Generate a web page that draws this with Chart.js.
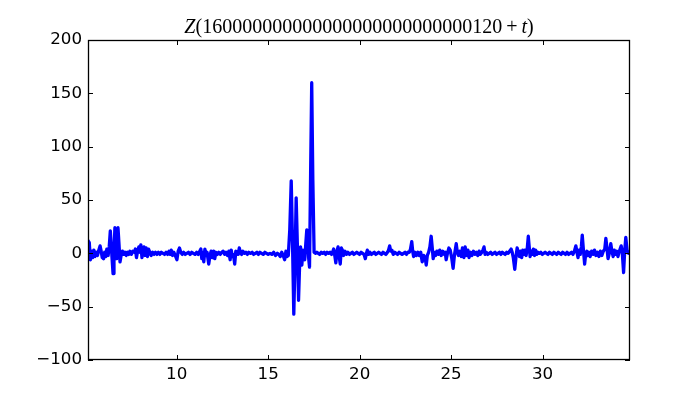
<!DOCTYPE html>
<html>
<head>
<meta charset="utf-8">
<script src="https://cdn.jsdelivr.net/npm/chart.js@4.4.1/dist/chart.umd.min.js"></script>
<style>
  html, body { margin: 0; padding: 0; background: #ffffff; }
  #wrap { width: 700px; height: 400px; }
</style>
</head>
<body>
<div id="wrap"><canvas id="zChart" width="700" height="400"></canvas></div>
<script>
// values, t on the x axis, Z on the y axis
var ts = [
  5.15, 5.22, 5.28, 5.34, 5.40, 5.47, 5.53, 5.60, 5.67, 5.74,
  5.81, 5.87, 5.93, 6.00, 6.06, 6.12, 6.18, 6.25, 6.31, 6.37,
  6.42, 6.47, 6.52, 6.57, 6.62, 6.67, 6.72, 6.79, 6.84, 6.90,
  6.96, 7.03, 7.10, 7.17, 7.24, 7.31, 7.38, 7.44, 7.52, 7.60,
  7.68, 7.74, 7.80, 7.86, 7.93, 7.99, 8.04, 8.10, 8.15, 8.21,
  8.27, 8.33, 8.40, 8.46, 8.53, 8.60, 8.68, 8.76, 8.84, 8.92,
  9.00, 9.08, 9.16, 9.25, 9.34, 9.42, 9.50, 9.58, 9.64, 9.70,
  9.77, 9.84, 9.92, 10.01, 10.08, 10.15, 10.22, 10.30, 10.38, 10.46,
  10.55, 10.64, 10.73, 10.82, 10.91, 11.00, 11.09, 11.18, 11.26, 11.32,
  11.37, 11.42, 11.48, 11.54, 11.60, 11.66, 11.75, 11.82, 11.88, 11.95,
  12.02, 12.08, 12.14, 12.22, 12.30, 12.38, 12.46, 12.54, 12.62, 12.70,
  12.78, 12.85, 12.92, 12.98, 13.04, 13.10, 13.17, 13.23, 13.30, 13.36,
  13.42, 13.48, 13.55, 13.62, 13.70, 13.78, 13.86, 13.94, 14.03, 14.12,
  14.20, 14.29, 14.38, 14.46, 14.55, 14.64, 14.73, 14.82, 14.91, 15.00,
  15.10, 15.20, 15.30, 15.40, 15.50, 15.58, 15.66, 15.74, 15.82, 15.90,
  15.97, 16.03, 16.10, 16.18, 16.26, 16.33, 16.40, 16.47, 16.53, 16.60,
  16.66, 16.72, 16.77, 16.84, 16.90, 16.96, 17.00, 17.06, 17.11, 17.16,
  17.21, 17.26, 17.32, 17.38, 17.44, 17.51, 17.58, 17.66, 17.74, 17.82,
  17.90, 17.98, 18.06, 18.14, 18.22, 18.30, 18.38, 18.46, 18.52, 18.58,
  18.64, 18.70, 18.76, 18.82, 18.88, 18.94, 19.00, 19.06, 19.12, 19.20,
  19.28, 19.36, 19.44, 19.52, 19.60, 19.68, 19.76, 19.84, 19.92, 20.00,
  20.08, 20.16, 20.24, 20.31, 20.37, 20.42, 20.49, 20.56, 20.64, 20.72,
  20.80, 20.88, 20.96, 21.04, 21.12, 21.20, 21.28, 21.36, 21.44, 21.52,
  21.58, 21.64, 21.70, 21.76, 21.84, 21.92, 22.00, 22.08, 22.16, 22.24,
  22.32, 22.40, 22.48, 22.56, 22.64, 22.72, 22.78, 22.85, 22.90, 22.95,
  23.02, 23.10, 23.18, 23.26, 23.34, 23.42, 23.50, 23.58, 23.64, 23.70,
  23.77, 23.84, 23.91, 23.97, 24.02, 24.08, 24.15, 24.22, 24.30, 24.38,
  24.46, 24.54, 24.62, 24.68, 24.73, 24.80, 24.88, 24.95, 25.03, 25.11,
  25.18, 25.28, 25.34, 25.40, 25.48, 25.56, 25.62, 25.70, 25.77, 25.84,
  25.92, 25.98, 26.06, 26.14, 26.22, 26.30, 26.38, 26.46, 26.53, 26.60,
  26.68, 26.74, 26.80, 26.86, 26.92, 27.00, 27.08, 27.16, 27.24, 27.32,
  27.40, 27.48, 27.56, 27.64, 27.72, 27.80, 27.88, 27.96, 28.04, 28.12,
  28.20, 28.28, 28.34, 28.40, 28.48, 28.55, 28.61, 28.67, 28.74, 28.80,
  28.86, 28.92, 28.98, 29.04, 29.10, 29.16, 29.22, 29.27, 29.32, 29.38,
  29.44, 29.50, 29.56, 29.62, 29.68, 29.74, 29.82, 29.90, 29.98, 30.06,
  30.14, 30.22, 30.30, 30.38, 30.46, 30.54, 30.62, 30.70, 30.78, 30.86,
  30.94, 31.02, 31.10, 31.18, 31.26, 31.34, 31.42, 31.50, 31.58, 31.66,
  31.74, 31.82, 31.88, 31.94, 32.00, 32.06, 32.12, 32.17, 32.23, 32.30,
  32.36, 32.42, 32.48, 32.54, 32.60, 32.68, 32.76, 32.84, 32.92, 33.00,
  33.08, 33.16, 33.24, 33.32, 33.40, 33.46, 33.52, 33.58, 33.66, 33.73,
  33.79, 33.86, 33.92, 34.00, 34.06, 34.12, 34.18, 34.24, 34.30, 34.36,
  34.43, 34.49, 34.55, 34.62, 34.70
];
var zs = [
  12, 10, -6, 2, -4, 3, -3, 1, -2, 3,
  7, 2, -4, -5, 1, -3, 4, -2, 6, 21,
  8, -6, -19, 0, 24, 12, -5, 24, 10, -8,
  -2, 2, -1, 1, -2, 1, -1, 2, -1, 2,
  1, 4, -4, 2, 6, 1, 8, -4, 2, 6,
  -2, 5, -3, 4, 1, -2, 1, -1, 1, -1,
  1, -1, 1, 0, -1, 1, -1, 2, -1, 3,
  -2, 1, -2, -6, 2, 5, 1, -1, 1, -1,
  0, 1, -1, 1, 0, -1, 1, -1, 2, 4,
  -5, 1, -8, 4, -2, 1, -10, -2, 2, -4,
  2, -5, 1, -1, 1, -1, 1, 2, -1, 1,
  -2, 2, -6, 3, -3, -1, -10, 2, 1, -1,
  5, 1, -1, 2, 0, 1, -1, 1, 0, 1,
  -1, 0, 1, -1, 1, 0, -1, 1, 0, -1,
  0, -1, 1, -2, 0, -1, -3, 1, -2, -6,
  2, -3, -2, 22, 68, 10, -57, -5, 52, 5,
  -44, -10, 6, -11, 3, -2, -6, 10, 22, 20,
  -4, -13, 75, 160, 70, 1, 0, 1, 0, -1,
  1, 0, 1, -1, 1, 0, 1, -1, 1, 4,
  -2, -9, 2, 6, -3, -10, 5, 3, -2, 2,
  -1, 1, -1, 0, 1, -1, 0, 1, 0, -1,
  1, 0, -1, -5, 0, 3, -1, 1, -1, 0,
  1, -1, 0, 1, 0, -1, 1, 0, -1, 1,
  3, 7, 2, 3, -1, 1, 0, -1, 1, 0,
  -1, 0, 1, -1, 1, 1, 4, 11, 2, -3,
  1, -2, 1, -2, 1, -8, -2, -4, -11, -2,
  1, 6, 16, 5, -5, 1, -2, 2, -1, 3,
  -2, 2, -1, 1, -6, 0, 5, 3, -4, -14,
  -2, 9, 1, -2, 2, -3, 5, -4, 6, -2,
  3, -4, 1, -2, 2, -1, 1, -2, 2, -1,
  1, 3, 6, -1, 1, -1, 0, 1, -1, 0,
  1, -1, 0, 1, -1, 1, 0, -1, 1, 0,
  2, 4, 1, -4, -15, -3, 5, 1, -3, 2,
  -4, 3, -1, 3, -2, 4, 16, 6, -3, 2,
  -1, 4, -2, 3, -1, 1, 0, 1, -1, 0,
  1, 0, -1, 1, 0, -1, 1, 0, -1, 1,
  0, -1, 1, 0, -1, 1, -1, 0, 1, -1,
  2, 7, 1, -4, 3, -1, 6, 17, 4, -10,
  0, 2, -2, 1, -3, 2, -1, 3, -2, 1,
  -3, 2, -2, 2, 4, 14, 5, -5, 1, 9,
  2, -3, 3, -1, 2, -3, 1, 4, 7, 0,
  -18, 2, 15, 3, 0
];
var xTicks = [10, 15, 20, 25, 30];
var yTicks = [-100, -50, 0, 50, 100, 150, 200];
var xRange = [5.15, 34.78];
var yRange = [-100, 200];
var titleNumber = '160000000000000000000000000120';

var points = ts.map(function (t, i) { return { x: t, y: zs[i] }; });

function minusSign(v) {
  return v < 0 ? '\u2212' + Math.abs(v) : String(v);
}

// frame + inward ticks on all four sides, like the old matplotlib look
var frameTicks = {
  id: 'frameTicks',
  afterDraw: function (chart) {
    var ctx = chart.ctx, a = chart.chartArea;
    var xs = chart.scales.x, ys = chart.scales.y;
    var len = 5;
    ctx.save();
    ctx.strokeStyle = '#000000';
    ctx.lineWidth = 1;
    ctx.beginPath();
    xTicks.forEach(function (v) {
      var px = Math.round(xs.getPixelForValue(v)) + 0.5;
      ctx.moveTo(px, a.bottom); ctx.lineTo(px, a.bottom - len);
      ctx.moveTo(px, a.top); ctx.lineTo(px, a.top + len);
    });
    yTicks.forEach(function (v) {
      var py = Math.round(ys.getPixelForValue(v)) + 0.5;
      ctx.moveTo(a.left, py); ctx.lineTo(a.left + len, py);
      ctx.moveTo(a.right, py); ctx.lineTo(a.right - len, py);
    });
    ctx.stroke();
    ctx.lineWidth = 1.3;
    ctx.strokeRect(a.left + 0.5, a.top + 0.5, a.right - a.left - 1, a.bottom - a.top - 1);
    ctx.restore();
  }
};

// title with italic Z and t
var mathTitle = {
  id: 'mathTitle',
  afterDraw: function (chart) {
    var ctx = chart.ctx, a = chart.chartArea;
    var fam = '"Liberation Serif", "DejaVu Serif", serif';
    var parts = [
      ['Z', 'italic'],
      ['(' + titleNumber, 'normal'],
      ['\u2009+\u2009', 'normal'],
      ['t', 'italic'],
      [')', 'normal']
    ];
    ctx.save();
    var total = 0;
    parts.forEach(function (p) {
      ctx.font = p[1] + ' 20px ' + fam;
      p.push(ctx.measureText(p[0]).width);
      total += p[2];
    });
    var x = (a.left + a.right) / 2 - total / 2;
    ctx.fillStyle = '#000000';
    ctx.textBaseline = 'alphabetic';
    ctx.textAlign = 'left';
    parts.forEach(function (p) {
      ctx.font = p[1] + ' 20px ' + fam;
      ctx.fillText(p[0], x, 33);
      x += p[2];
    });
    ctx.restore();
  }
};

function createChart() {
  var canvas = document.getElementById('zChart');
  new Chart(canvas, {
    type: 'line',
    data: {
      datasets: [{
        data: points,
        borderColor: '#0000ff',
        backgroundColor: '#0000ff',
        borderWidth: 3.3,
        borderJoinStyle: 'round',
        borderCapStyle: 'round',
        pointRadius: 0,
        tension: 0,
        fill: false
      }]
    },
    options: {
      responsive: false,
      animation: false,
      events: [],
      layout: { padding: { top: 40, right: 70, left: 0, bottom: 0 } },
      plugins: {
        legend: { display: false },
        title: { display: false },
        tooltip: { enabled: false }
      },
      scales: {
        x: {
          type: 'linear',
          min: xRange[0],
          max: xRange[1],
          afterBuildTicks: function (s) { s.ticks = xTicks.map(function (v) { return { value: v }; }); },
          afterFit: function (s) { s.height = 40; },
          grid: { display: false, drawTicks: false },
          border: { display: false },
          ticks: {
            padding: 5,
            color: '#000000',
            maxRotation: 0,
            font: { family: '"DejaVu Sans", sans-serif', size: 16.7 },
            callback: function (v) { return minusSign(v); }
          }
        },
        y: {
          type: 'linear',
          min: yRange[0],
          max: yRange[1],
          afterBuildTicks: function (s) { s.ticks = yTicks.map(function (v) { return { value: v }; }); },
          afterFit: function (s) { s.width = 88; },
          grid: { display: false, drawTicks: false },
          border: { display: false },
          ticks: {
            padding: 6,
            color: '#000000',
            font: { family: '"DejaVu Sans", sans-serif', size: 16.7 },
            callback: function (v) { return minusSign(v); }
          }
        }
      }
    },
    plugins: [frameTicks, mathTitle]
  });
}

window.onload = function () {
  createChart();
};
</script>
</body>
</html>
